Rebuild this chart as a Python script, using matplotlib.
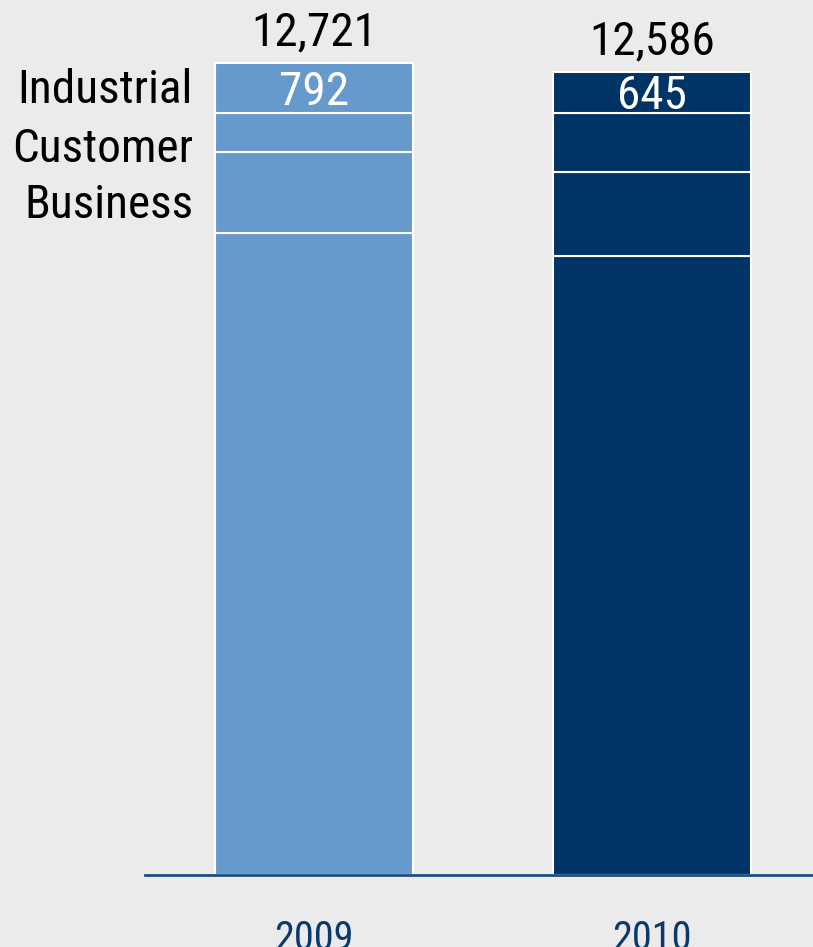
import matplotlib
matplotlib.use("Agg")
import matplotlib.pyplot as plt

# Data
years = ["2009", "2010"]
segment_names = ["Other", "Business", "Customer", "Industrial"]  # bottom to top
other = [10059, 9701]
business = [1259, 1316]
customer = [611, 924]
industrial = [792, 645]
totals = [12721, 12586]
bar_colors = ["#6699cc", "#003366"]

BG = "#ebebeb"
NAVY = "#0a3a6b"
FONT = dict(family=["Liberation Sans Narrow", "Roboto Condensed", "DejaVu Sans"],
            stretch="condensed")

fig = plt.figure(figsize=(8.13, 9.47), dpi=100, facecolor=BG)
ax = fig.add_axes([145 / 813, 72 / 947, 1 - 145 / 813, 1 - 72 / 947])
ax.set_facecolor(BG)

PX = 0.06384  # pixels per unit at this figure size

x = [0, 1]
width = 0.586
stack = [other, business, customer, industrial]
bottoms = [0, 0]
for seg in stack:
    ax.bar(x, seg, width=width, bottom=bottoms, color=bar_colors,
           edgecolor="white", linewidth=1.5, zorder=2)
    bottoms = [b + s for b, s in zip(bottoms, seg)]

# Totals above bars
for xi, t in zip(x, totals):
    ax.text(xi, t + 17 / PX, f"{t:,}", ha="center", va="baseline",
            fontsize=34, color="black", **FONT)

# Industrial value inside the top segment
for xi, t, v in zip(x, totals, industrial):
    ax.text(xi, t - v / 2 - 16.5 / PX, f"{v:,}", ha="center", va="baseline",
            fontsize=34, color="white", zorder=3, **FONT)

# Segment labels on the left
label_rows = [("Industrial", 103), ("Customer", 162), ("Business", 218)]
for name, ypix in label_rows:
    fig.text(193 / 813, 1 - ypix / 947, name, ha="right", va="baseline",
             fontsize=34, color="black", **FONT)

# Year labels
for xi, yr in zip(x, years):
    ax.text(xi, -75 / 875, yr, transform=ax.get_xaxis_transform(),
            ha="center", va="baseline", fontsize=29, color=NAVY, **FONT)

ax.set_xlim(-0.5, 1.475)
ax.set_ylim(0, 875 / PX)
for s in ["top", "right", "left"]:
    ax.spines[s].set_visible(False)
ax.spines["bottom"].set_color("#1f4e79")
ax.spines["bottom"].set_linewidth(2)
ax.set_xticks([])
ax.set_yticks([])

fig.savefig("out.png", dpi=100, facecolor=BG)
